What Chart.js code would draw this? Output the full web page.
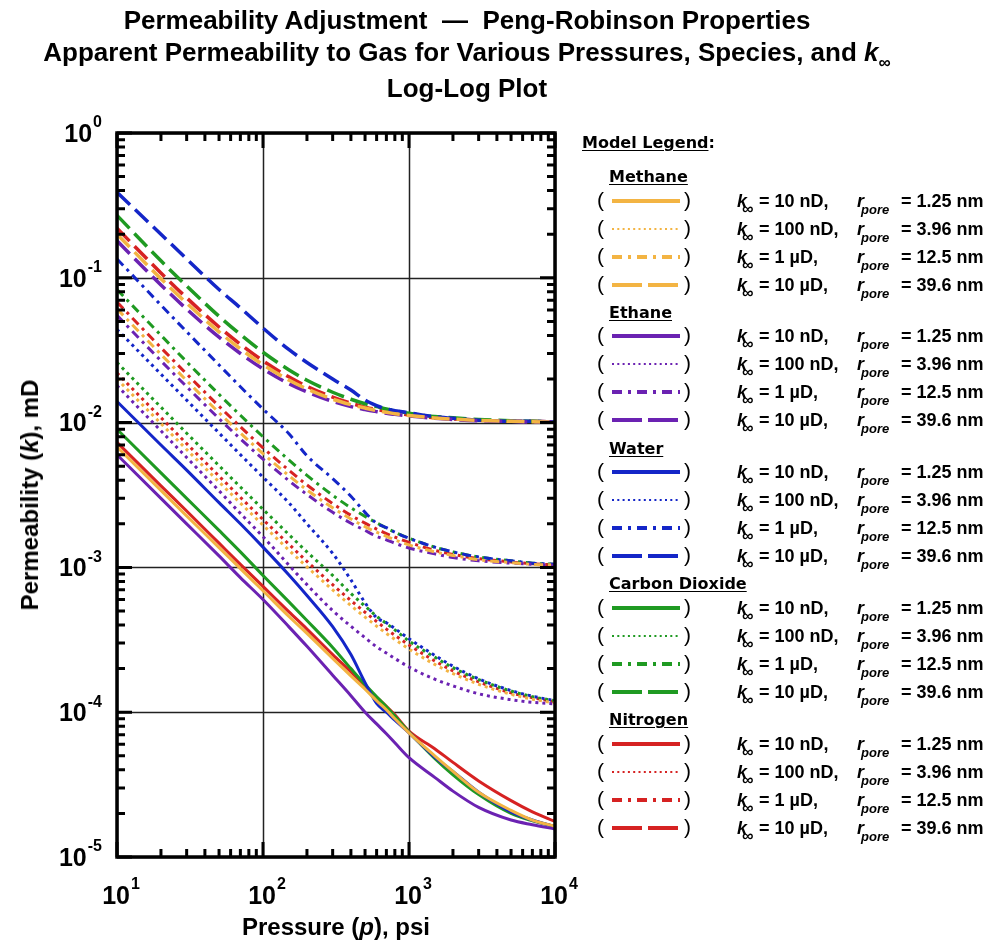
<!DOCTYPE html>
<html>
<head>
<meta charset="utf-8">
<script src="https://cdn.jsdelivr.net/npm/chart.js@4.4.1/dist/chart.umd.min.js"></script>
<style>
  body { margin: 0; background: #fff; }
  #page { position: relative; width: 989px; height: 944px; overflow: hidden; font-family: "Liberation Sans", Arial, sans-serif; color: #000; }
  #chart { position: absolute; left: 0; top: 0; }
  .title { position: absolute; left: 0; width: 934px; text-align: center; font-weight: bold; font-size: 26px; white-space: nowrap; line-height: 30px; }
  .title sub { font-size: 17px; vertical-align: -7px; }
  .axlab { position: absolute; font-weight: bold; font-size: 24px; white-space: nowrap; transform: translate(-50%, -50%); }
  #ylab { left: 30px; top: 495px; transform: translate(-50%, -50%) rotate(-90deg); }
  #xlab { left: 336px; top: 927px; }
  .lg { position: absolute; white-space: nowrap; line-height: 20px; }
  .hdr { font-family: "DejaVu Sans", Verdana, sans-serif; font-weight: bold; font-size: 16px; }
  .hdr u { text-underline-offset: 2px; }
  .val { font-weight: bold; font-size: 18px; }
  .it { font-weight: bold; font-style: italic; font-size: 18px; }
  .sb { font-weight: bold; font-style: italic; font-size: 13px; }
  .inf { font-weight: bold; font-style: italic; font-size: 16px; }
  .par { font-size: 21px; }
</style>
</head>
<body>
<div id="page">
  <canvas id="chart" width="989" height="944"></canvas>
  <div class="title" style="top:5px">Permeability Adjustment&nbsp; —&nbsp; Peng-Robinson Properties</div>
  <div class="title" style="top:37px">Apparent Permeability to Gas for Various Pressures, Species, and <i>k</i><sub><i>∞</i></sub></div>
  <div class="title" style="top:73px">Log-Log Plot</div>
  <div class="axlab" id="ylab">Permeability (<i>k</i>), mD</div>
  <div class="axlab" id="xlab">Pressure (<i>p</i>), psi</div>
  <div id="legend"></div>
</div>
<script>
// pressure, psi
var pressures = [10, 20, 30, 50, 70, 100, 150, 200, 300, 400, 500, 600, 700, 800, 1000, 1500, 2000, 3000, 5000, 7000, 10000];

// apparent permeability, mD  (k_inf = 10 nD)
var methane10nD = [6.8e-3, 3.4e-3, 2.27e-3, 1.37e-3, 9.8e-4, 6.9e-4, 4.6e-4, 3.5e-4, 2.35e-4, 1.78e-4, 1.44e-4, 1.2e-4, 1.04e-4, 9.0e-5, 7.2e-5, 5.0e-5, 3.9e-5, 2.8e-5, 2.1e-5, 1.8e-5, 1.63e-5];
var ethane10nD = [6.0e-3, 3.0e-3, 2.0e-3, 1.2e-3, 8.5e-4, 6.0e-4, 3.9e-4, 2.85e-4, 1.8e-4, 1.3e-4, 1.0e-4, 8.3e-5, 7.1e-5, 6.15e-5, 4.85e-5, 3.55e-5, 2.85e-5, 2.2e-5, 1.8e-5, 1.67e-5, 1.56e-5];
var water10nD = [1.4e-2, 7.0e-3, 4.7e-3, 2.8e-3, 2.0e-3, 1.38e-3, 8.9e-4, 6.4e-4, 3.9e-4, 2.5e-4, 1.6e-4, 1.15e-4, 1.0e-4, 8.8e-5, 7.2e-5, 4.9e-5, 3.9e-5, 2.8e-5, 2.05e-5, 1.8e-5, 1.62e-5];
var co210nD = [9.0e-3, 4.5e-3, 3.0e-3, 1.8e-3, 1.28e-3, 8.8e-4, 5.8e-4, 4.3e-4, 2.8e-4, 2.0e-4, 1.55e-4, 1.28e-4, 1.09e-4, 9.4e-5, 7.3e-5, 4.8e-5, 3.7e-5, 2.7e-5, 2.0e-5, 1.78e-5, 1.62e-5];
var nitrogen10nD = [7.3e-3, 3.66e-3, 2.45e-3, 1.47e-3, 1.05e-3, 7.4e-4, 4.95e-4, 3.75e-4, 2.5e-4, 1.9e-4, 1.52e-4, 1.27e-4, 1.1e-4, 9.6e-5, 7.4e-5, 5.6e-5, 4.5e-5, 3.35e-5, 2.45e-5, 2.05e-5, 1.76e-5];

// k_inf = 100 nD
var methane100nD = [0.0200, 0.00985, 0.00652, 0.00389, 0.00278, 0.00196, 0.00132, 0.00101, 0.000699, 0.000545, 0.000454, 0.000393, 0.00035, 0.000318, 0.000273, 0.000214, 0.000185, 0.000156, 0.000133, 0.000123, 0.000116];
var ethane100nD = [0.0180, 0.00877, 0.00574, 0.00338, 0.00236, 0.00163, 0.00104, 0.00076, 0.000503, 0.000392, 0.000327, 0.000283, 0.000256, 0.000235, 0.000205, 0.000169, 0.000152, 0.000134, 0.000122, 0.000117, 0.000114];
var water100nD = [0.0440, 0.0216, 0.0143, 0.00847, 0.00601, 0.0042, 0.0028, 0.0020, 0.00125, 0.00082, 0.00057, 0.00045, 0.000415, 0.000378, 0.000322, 0.000247, 0.000208, 0.00017, 0.000141, 0.000129, 0.00012];
var co2100nD = [0.0260, 0.01278, 0.00845, 0.00504, 0.00359, 0.00252, 0.00169, 0.00128, 0.00088, 0.00066, 0.00054, 0.00046, 0.00041, 0.00037, 0.00031, 0.00024, 0.000203, 0.000168, 0.00014, 0.000128, 0.00012];
var nitrogen100nD = [0.0220, 0.01082, 0.00716, 0.00427, 0.00305, 0.00214, 0.00145, 0.0011, 0.000759, 0.00059, 0.00049, 0.000423, 0.000375, 0.00034, 0.000291, 0.000226, 0.000193, 0.000162, 0.000136, 0.000126, 0.000118];

// k_inf = 1 uD
var methane1uD = [0.061, 0.0296, 0.0195, 0.0117, 0.00848, 0.00611, 0.00431, 0.00343, 0.00258, 0.00216, 0.00191, 0.00175, 0.00164, 0.00155, 0.00143, 0.00128, 0.00121, 0.00113, 0.00108, 0.00105, 0.00104];
var ethane1uD = [0.055, 0.0267, 0.0177, 0.01065, 0.00773, 0.0056, 0.00398, 0.00319, 0.0024, 0.00202, 0.0018, 0.00164, 0.00155, 0.00147, 0.00136, 0.00124, 0.00117, 0.00111, 0.00107, 0.00105, 0.00103];
var water1uD = [0.135, 0.0648, 0.0424, 0.025, 0.0177, 0.0124, 0.0084, 0.0059, 0.0041, 0.0031, 0.0024, 0.00202, 0.00188, 0.00175, 0.00159, 0.00138, 0.00128, 0.00118, 0.00111, 0.00107, 0.00105];
var co21uD = [0.083, 0.0401, 0.0263, 0.01565, 0.01123, 0.00798, 0.00553, 0.00432, 0.00315, 0.00258, 0.00225, 0.00203, 0.00187, 0.00175, 0.00159, 0.00138, 0.00128, 0.00118, 0.00111, 0.00107, 0.00105];
var nitrogen1uD = [0.068, 0.0329, 0.0217, 0.01297, 0.00936, 0.0067, 0.0047, 0.00371, 0.00276, 0.00229, 0.00202, 0.00184, 0.00171, 0.00162, 0.00149, 0.00131, 0.00123, 0.00115, 0.00109, 0.00106, 0.00104];

// k_inf = 10 uD
var methane10uD = [0.200, 0.0986, 0.0668, 0.0423, 0.0323, 0.0251, 0.0197, 0.0171, 0.0145, 0.0133, 0.0126, 0.0121, 0.0118, 0.0115, 0.0112, 0.01077, 0.01056, 0.01036, 0.0102, 0.01014, 0.0101];
var ethane10uD = [0.180, 0.0893, 0.0608, 0.0389, 0.030, 0.0235, 0.0186, 0.0163, 0.014, 0.0129, 0.0123, 0.0119, 0.0116, 0.0114, 0.0111, 0.0107, 0.0105, 0.0103, 0.0102, 0.0101, 0.0101];
var water10uD = [0.39, 0.200, 0.135, 0.083, 0.062, 0.045, 0.032, 0.026, 0.020, 0.0168, 0.0143, 0.0131, 0.0124, 0.0121, 0.0117, 0.0110, 0.0107, 0.0104, 0.0102, 0.0102, 0.0101];
var co210uD = [0.270, 0.131, 0.0877, 0.0542, 0.0406, 0.0306, 0.0232, 0.0196, 0.0162, 0.0145, 0.0135, 0.0129, 0.0124, 0.0121, 0.0116, 0.011, 0.0108, 0.0105, 0.0103, 0.0102, 0.0101];
var nitrogen10uD = [0.220, 0.108, 0.0727, 0.0457, 0.0347, 0.0267, 0.0207, 0.0178, 0.015, 0.0136, 0.0128, 0.0123, 0.012, 0.0117, 0.0113, 0.0108, 0.0106, 0.0104, 0.0102, 0.0102, 0.0101];

var species = ['Methane', 'Ethane', 'Water', 'Carbon Dioxide', 'Nitrogen'];
var speciesColors = ['#F3B443', '#6B22B2', '#1426C8', '#1F9A22', '#D62222'];
var kInfLabels = ['10 nD,', '100 nD,', '1 \u00B5D,', '10 \u00B5D,'];
var rPoreLabels = ['1.25', '3.96', '12.5', '39.6'];
var seriesValues = [
    [methane10nD, methane100nD, methane1uD, methane10uD],
    [ethane10nD, ethane100nD, ethane1uD, ethane10uD],
    [water10nD, water100nD, water1uD, water10uD],
    [co210nD, co2100nD, co21uD, co210uD],
    [nitrogen10nD, nitrogen100nD, nitrogen1uD, nitrogen10uD]
];

// line styles per k_inf: solid, dotted, dash-dot, long dash
var lineDash = [[], [3, 4], [9, 5, 3, 5], [18, 7]];
var lineWidth = [3, 3, 3, 3.5];
var sampleDash = ['', '2 3.3', '10 6 3 6', '30 6'];
var sampleWidth = [4, 2, 4, 4];

var datasets = [];
species.forEach(function (name, s) {
    seriesValues[s].forEach(function (vals, g) {
        datasets.push({
            label: name + ' ' + kInfLabels[g],
            data: pressures.map(function (p, i) { return { x: p, y: vals[i] }; }),
            borderColor: speciesColors[s],
            borderWidth: lineWidth[g],
            borderDash: lineDash[g],
            pointRadius: 0,
            fill: false,
            cubicInterpolationMode: 'monotone'
        });
    });
});

function isDecade(v) {
    var l = Math.log10(v);
    return Math.abs(l - Math.round(l)) < 1e-9;
}

function tickValues(min, max) {
    var out = [];
    for (var e = Math.round(Math.log10(min)); e < Math.round(Math.log10(max)); e++) {
        for (var m = 1; m <= 9; m++) out.push(m * Math.pow(10, e));
    }
    out.push(max);
    return out;
}

function drawPower(ctx, exp, x, y, align) {
    var base = '10', sup = String(exp);
    ctx.font = 'bold 25px "Liberation Sans", Arial, sans-serif';
    var wb = ctx.measureText(base).width;
    ctx.font = 'bold 16px "Liberation Sans", Arial, sans-serif';
    var ws = ctx.measureText(sup).width;
    var x0 = align === 'right' ? x - wb - ws - 1 : x - (wb + ws + 1) / 2 + 4;
    ctx.textAlign = 'left';
    ctx.textBaseline = 'middle';
    ctx.font = 'bold 25px "Liberation Sans", Arial, sans-serif';
    ctx.fillText(base, x0, y);
    ctx.font = 'bold 16px "Liberation Sans", Arial, sans-serif';
    ctx.fillText(sup, x0 + wb + 1, y - 12);
}

var framePlugin = {
    id: 'frame',
    beforeDatasetsDraw: function (chart) {
        var ctx = chart.ctx, a = chart.chartArea, xs = chart.scales.x, ys = chart.scales.y;
        ctx.save();
        ctx.strokeStyle = '#222';
        ctx.lineWidth = 1.5;
        tickValues(xs.min, xs.max).filter(isDecade).forEach(function (v) {
            var px = Math.round(xs.getPixelForValue(v)) + 0.5;
            ctx.beginPath(); ctx.moveTo(px, a.top); ctx.lineTo(px, a.bottom); ctx.stroke();
        });
        tickValues(ys.min, ys.max).filter(isDecade).forEach(function (v) {
            var py = Math.round(ys.getPixelForValue(v)) + 0.5;
            ctx.beginPath(); ctx.moveTo(a.left, py); ctx.lineTo(a.right, py); ctx.stroke();
        });
        ctx.restore();
    },
    afterDatasetsDraw: function (chart) {
        var ctx = chart.ctx, a = chart.chartArea, xs = chart.scales.x, ys = chart.scales.y;
        ctx.save();
        ctx.strokeStyle = '#000';
        ctx.fillStyle = '#000';
        ctx.lineWidth = 3;
        tickValues(xs.min, xs.max).forEach(function (v) {
            var px = xs.getPixelForValue(v), len = isDecade(v) ? 15 : 8;
            ctx.beginPath();
            ctx.moveTo(px, a.bottom); ctx.lineTo(px, a.bottom - len);
            ctx.moveTo(px, a.top); ctx.lineTo(px, a.top + len);
            ctx.stroke();
            if (isDecade(v)) drawPower(ctx, Math.round(Math.log10(v)), px, a.bottom + 40, 'center');
        });
        tickValues(ys.min, ys.max).forEach(function (v) {
            var py = ys.getPixelForValue(v), len = isDecade(v) ? 15 : 8;
            ctx.beginPath();
            ctx.moveTo(a.left, py); ctx.lineTo(a.left + len, py);
            ctx.moveTo(a.right, py); ctx.lineTo(a.right - len, py);
            ctx.stroke();
            if (isDecade(v)) drawPower(ctx, Math.round(Math.log10(v)), a.left - 15, py + 2, 'right');
        });
        ctx.lineWidth = 3.5;
        ctx.strokeRect(a.left, a.top, a.right - a.left, a.bottom - a.top);
        ctx.restore();
    }
};

new Chart(document.getElementById('chart'), {
    type: 'line',
    data: { datasets: datasets },
    options: {
        responsive: false,
        animation: false,
        layout: { padding: { left: 117, top: 133, right: 434, bottom: 87 } },
        plugins: { legend: { display: false }, tooltip: { enabled: false } },
        scales: {
            x: { type: 'logarithmic', min: 10, max: 10000, display: false },
            y: { type: 'logarithmic', min: 1e-5, max: 1, display: false }
        }
    },
    plugins: [framePlugin]
});

// legend
var legend = document.getElementById('legend');
var html = '<div class="lg hdr" style="left:582px;top:133px"><u>Model Legend</u>:</div>';
species.forEach(function (name, s) {
    var hy = 177 + s * 135.8;
    html += '<div class="lg hdr" style="left:609px;top:' + (hy - 10) + 'px"><u>' + name + '</u></div>';
    kInfLabels.forEach(function (kl, g) {
        var ry = hy + 23.5 + g * 28;
        var t = ry - 10;
        html += '<div class="lg par" style="left:597px;top:' + (t - 1) + 'px">(</div>';
        html += '<svg class="lg" style="left:610px;top:' + (ry - 5) + 'px" width="72" height="10"><line x1="2" y1="5" x2="70" y2="5" stroke="' + speciesColors[s] +
            '" stroke-width="' + sampleWidth[g] + '" stroke-dasharray="' + sampleDash[g] + '"/></svg>';
        html += '<div class="lg par" style="left:684px;top:' + (t - 1) + 'px">)</div>';
        html += '<div class="lg it" style="left:737px;top:' + t + 'px">k</div>';
        html += '<div class="lg inf" style="left:742px;top:' + (t + 8) + 'px">\u221E</div>';
        html += '<div class="lg val" style="left:759px;top:' + t + 'px">= ' + kl + '</div>';
        html += '<div class="lg it" style="left:857px;top:' + t + 'px">r</div>';
        html += '<div class="lg sb" style="left:861px;top:' + (t + 9) + 'px">pore</div>';
        html += '<div class="lg val" style="left:901px;top:' + t + 'px">= ' + rPoreLabels[g] + ' nm</div>';
    });
});
legend.innerHTML = html;
</script>
</body>
</html>
